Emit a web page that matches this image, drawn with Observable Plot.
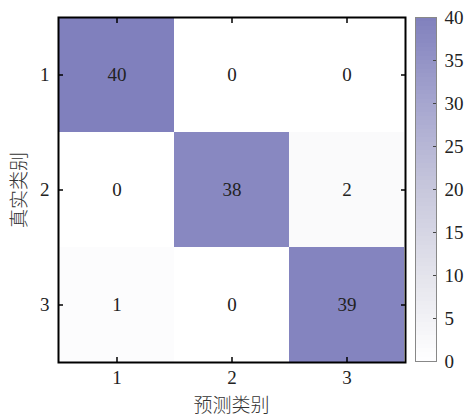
<!DOCTYPE html>
<html>
<head>
<meta charset="utf-8">
<script src="https://cdn.jsdelivr.net/npm/d3@7"></script>
<script src="https://cdn.jsdelivr.net/npm/@observablehq/plot@0.6"></script>
<style>
  html, body { margin: 0; padding: 0; background: #fff; }
  #wrap { position: relative; width: 473px; height: 419px; }
  #wrap svg { position: absolute; left: 0; top: 0; }
</style>
</head>
<body>
<div id="wrap"></div>
<script>
const classes = [1, 2, 3];
const actualLabels = [1, 1, 1, 2, 2, 2, 3, 3, 3];
const predictedLabels = [1, 2, 3, 1, 2, 3, 1, 2, 3];
const counts = [40, 0, 0, 0, 38, 2, 1, 0, 39];
const colorTicks = [0, 5, 10, 15, 20, 25, 30, 35, 40];
const xTitle = "预测类别";
const yTitle = "真实类别";

const cells = counts.map((v, i) => ({actual: actualLabels[i], predicted: predictedLabels[i], count: v}));

const colorStops = ["#ffffff", "#e4e4ec", "#c7c7dc", "#a6a6cf", "#8080bd"];
const interp = d3.piecewise(d3.interpolateRgb, colorStops);

const W = 473, H = 419;
const SERIF = "Liberation Serif, Times New Roman, serif";
const FS = 19;

const main = Plot.plot({
  width: W, height: H,
  marginLeft: 58, marginRight: 68, marginTop: 17, marginBottom: 57,
  x: {type: "band", domain: classes, padding: 0, label: null},
  y: {type: "band", domain: classes, padding: 0, label: null},
  color: {type: "linear", domain: [0, 40], interpolate: () => interp},
  marks: [
    Plot.cell(cells, {x: "predicted", y: "actual", fill: "count", inset: 0}),
    Plot.text(cells, {x: "predicted", y: "actual", text: d => String(d.count)}),
    Plot.axisX({anchor: "bottom", tickSize: -5, tickPadding: 13, stroke: "#000", strokeWidth: 1.5, label: null}),
    Plot.axisX({anchor: "top", tickSize: -5, tickFormat: () => "", stroke: "#000", strokeWidth: 1.5, label: null}),
    Plot.axisY({anchor: "left", tickSize: -5, tickPadding: 14, stroke: "#000", strokeWidth: 1.5, label: null}),
    Plot.axisY({anchor: "right", tickSize: -5, tickFormat: () => "", stroke: "#000", strokeWidth: 1.5, label: null}),
    Plot.frame({stroke: "#000", strokeWidth: 2})
  ]
});

// colorbar
const step = 0.5;
const barVals = d3.range(0, 40, step);
const bar = Plot.plot({
  width: W, height: H,
  marginLeft: 415, marginRight: 37, marginTop: 17, marginBottom: 58,
  x: {axis: null, domain: [0, 1]},
  y: {domain: [0, 40], label: null},
  color: {type: "linear", domain: [0, 40], interpolate: () => interp},
  marks: [
    Plot.rect(barVals, {x1: 0, x2: 1, y1: d => d, y2: d => Math.min(40, d + step * 1.6), fill: d => d + step / 2, shapeRendering: "crispEdges"}),
    Plot.axisY({anchor: "right", ticks: colorTicks, tickSize: -4, tickPadding: 12, stroke: "#444", label: null}),
    Plot.frame({stroke: "#888", strokeWidth: 1})
  ]
});

const wrap = document.getElementById("wrap");
wrap.appendChild(main);
wrap.appendChild(bar);
for (const s of [main, bar]) {
  s.setAttribute("font-family", SERIF);
  s.setAttribute("font-size", String(FS));
  d3.select(s).selectAll("g").each(function() {
    this.removeAttribute("font-family");
    this.removeAttribute("font-size");
  });
  d3.select(s).selectAll("text").each(function() {
    this.setAttribute("style", (this.getAttribute("style") || "") + `;font-family:${SERIF};font-size:${FS}px;fill:#222`);
  });
}

const svg = d3.select(wrap).append("svg").attr("width", W).attr("height", H);
const cjk = "font-family:'Noto Sans CJK SC',sans-serif;font-size:19px;font-weight:300;fill:#333";
svg.append("text").attr("style", cjk).attr("x", 231.5).attr("y", 412).attr("text-anchor", "middle").text(xTitle);
svg.append("text").attr("style", cjk).attr("transform", "translate(26,190) rotate(-90)").attr("text-anchor", "middle").text(yTitle);
</script>
</body>
</html>
